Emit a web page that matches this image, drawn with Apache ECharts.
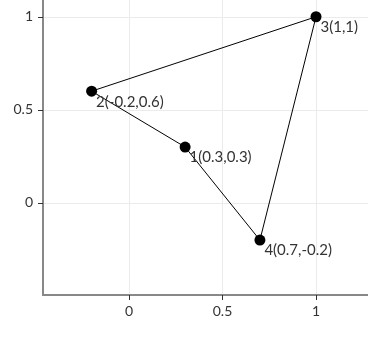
<!DOCTYPE html>
<html><head><meta charset="utf-8">
<script src="https://cdn.jsdelivr.net/npm/echarts@6/dist/echarts.min.js"></script>
<style>html,body{margin:0;padding:0;background:#fff}#c{width:368px;height:342px}</style>
</head><body><div id="c"></div>
<script>
var labels = ['1', '2', '3', '4'];
var xs = [0.3, -0.2, 1, 0.7];
var ys = [0.3, 0.6, 1, -0.2];
var tickValues = [0, 0.5, 1];
var pathOrder = [0, 1, 2, 3, 0];

var pts = xs.map(function (x, i) { return { value: [x, ys[i]], name: labels[i] }; });
var path = pathOrder.map(function (i) { return [xs[i], ys[i]]; });
var gridLines = tickValues.map(function (v) { return { xAxis: v }; })
  .concat(tickValues.map(function (v) { return { yAxis: v }; }));

var axisCommon = {
  type: 'value',
  axisLine: { show: true, onZero: false, lineStyle: { color: '#888', width: 2 } },
  axisTick: { show: true, inside: false, length: 5, lineStyle: { color: '#333', width: 1 }, customValues: tickValues },
  axisLabel: { color: '#333', fontFamily: 'Lato', fontSize: 14, margin: 9, customValues: tickValues },
  splitLine: { show: true, lineStyle: { color: 'rgba(0,0,0,0)' } }
};

var chart = echarts.init(document.getElementById('c'));
chart.setOption({
  animation: false,
  grid: { left: 43, right: 0, top: 0, bottom: 47 },
  xAxis: Object.assign({}, axisCommon, { min: -0.46, max: 1.278 }),
  yAxis: Object.assign({}, axisCommon, { min: -0.495, max: 1.09,
    axisLabel: Object.assign({}, axisCommon.axisLabel, { margin: 10 }) }),
  series: [
    { type: 'line', data: [], z: 0, silent: true,
      markLine: { silent: true, z: 0, zlevel: 0, symbol: 'none', animation: false, label: { show: false },
        lineStyle: { color: '#ebebeb', width: 1, type: 'solid' }, data: gridLines } },
    { type: 'line', data: path, symbol: 'none', lineStyle: { color: '#000', width: 1 }, z: 6 },
    { type: 'scatter', data: pts, symbolSize: 11, itemStyle: { color: '#000', opacity: 1 }, z: 7,
      label: { show: true, position: [10, 16], align: 'left', verticalAlign: 'middle',
        color: '#333', fontFamily: 'Lato', fontSize: 15,
        formatter: function (p) { return p.name + '(' + p.value[0] + ',' + p.value[1] + ')'; } } }
  ]
});
</script></body></html>
